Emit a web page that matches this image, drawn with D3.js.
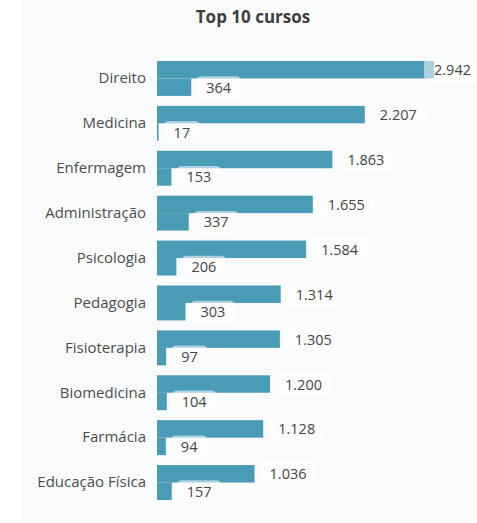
<!DOCTYPE html>
<html>
<head>
<meta charset="utf-8">
<script src="https://cdn.jsdelivr.net/npm/d3@7"></script>
<style>
  body { margin: 0; background: #fff; }
  text { font-family: "Open Sans", "Noto Sans", sans-serif; }
</style>
</head>
<body>
<div id="container"></div>
<script>
/* CONSTANTS AND GLOBALS */
const width = 477,
  height = 523,
  margin = { top: 56, bottom: 17, left: 157, right: 43 };

// DATA
const cursos = ["Direito", "Medicina", "Enfermagem", "Administração", "Psicologia",
  "Pedagogia", "Fisioterapia", "Biomedicina", "Farmácia", "Educação Física"];
const totais = [2942, 2207, 1863, 1655, 1584, 1314, 1305, 1200, 1128, 1036];
const segundos = [364, 17, 153, 337, 206, 303, 97, 104, 94, 157];
const series = ["total", "segundo"];

const rows = cursos.map((c, i) => ({ curso: c, total: totais[i], segundo: segundos[i] }));

const fmt = d3.formatLocale({ decimal: ",", thousands: ".", grouping: [3], currency: ["R$", ""] }).format(",d");

// APPEND SVG
const svg = d3.select("#container")
  .append("svg")
  .attr("width", width)
  .attr("height", height);

// panel background
svg.append("rect")
  .attr("x", 22).attr("y", 0)
  .attr("width", width - 22).attr("height", 520)
  .attr("fill", "#fafbfd");

svg.append("text")
  .attr("x", 253).attr("y", 23)
  .attr("text-anchor", "middle")
  .attr("font-size", 17).attr("font-weight", "bold")
  .attr("fill", "#404040")
  .text("Top 10 cursos");

// SCALES
const x = d3.scaleLinear()
  .domain([0, d3.max(totais)])
  .range([margin.left, width - margin.right]);

const y = d3.scaleBand()
  .domain(cursos)
  .range([margin.top, height - margin.bottom - 1])
  .paddingInner(0.222)
  .paddingOuter(0.111);

const ySub = d3.scaleBand()
  .domain(series)
  .range([0, y.bandwidth()]);

// category axis
const yAxis = svg.append("g")
  .attr("transform", `translate(${margin.left - 11},0)`)
  .call(d3.axisLeft(y).tickSize(0).tickPadding(0));
yAxis.select(".domain").remove();
yAxis.selectAll("text")
  .attr("font-size", 15)
  .attr("fill", "#4d4d4d")
  .attr("font-family", "'Open Sans', sans-serif");

// BARS
const groups = svg.selectAll("g.curso")
  .data(rows)
  .join("g")
  .attr("class", "curso")
  .attr("transform", d => `translate(0,${y(d.curso)})`);

groups.selectAll("rect.bar")
  .data(d => series.map(s => ({ key: s, value: d[s] })))
  .join("rect")
  .attr("class", "bar")
  .attr("x", x(0))
  .attr("y", d => ySub(d.key))
  .attr("width", d => x(d.value) - x(0))
  .attr("height", ySub.bandwidth())
  .attr("fill", "#4a9bb5");

// VALUE LABELS
const labels = groups.selectAll("g.label")
  .data(d => series.map(s => ({ key: s, value: d[s] })))
  .join("g")
  .attr("class", "label");

labels.each(function (d) {
  const g = d3.select(this);
  const t = g.append("text")
    .attr("font-size", 14.5)
    .attr("fill", "#454545")
    .attr("dominant-baseline", "central")
    .text(fmt(d.value));
  const tw = t.node().getComputedTextLength();
  const boxW = tw + 20, boxH = 22;
  let bx = x(d.value) + 5;
  if (bx + boxW > width + 4) bx = width + 4 - boxW;
  const cy = ySub(d.key) + ySub.bandwidth() / 2;
  g.insert("rect", "text")
    .attr("x", bx).attr("y", cy - boxH / 2)
    .attr("width", boxW).attr("height", boxH)
    .attr("rx", 5)
    .attr("fill", "#fff")
    .attr("fill-opacity", 0.55);
  t.attr("x", bx + 10).attr("y", cy);
});
</script>
</body>
</html>
